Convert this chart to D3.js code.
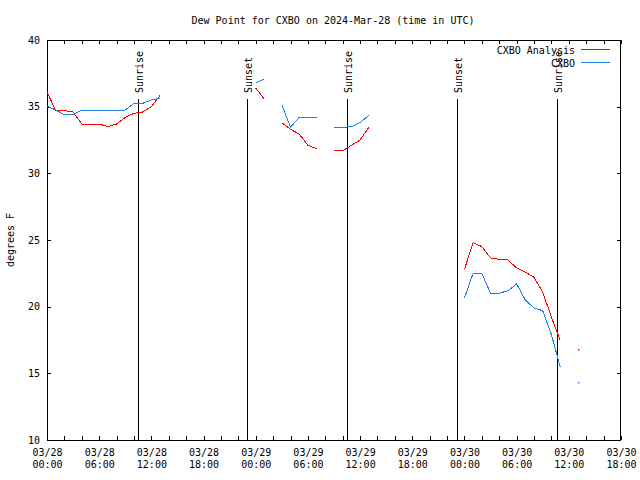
<!DOCTYPE html>
<html><head><meta charset="utf-8">
<script src="https://cdn.jsdelivr.net/npm/d3@7"></script>
<style>
body{margin:0;background:#fff;}
svg{display:block;}
text{font-family:"DejaVu Sans Mono",monospace;font-size:10px;fill:#000;}
</style></head>
<body>
<svg id="c" width="640" height="480"></svg>
<script>
// ---- data ----
const startTime = "2024-03-28T00:00:00Z";
const hours = d3.range(0, 62); // hourly offsets from start
const analysis = [36.1,34.7,34.7,34.6,33.7,33.7,33.7,33.5,33.7,34.2,34.5,34.6,35.0,35.85,
  null,null,null,null,null,null,null,null,null,null,
  36.4,35.55,null,
  33.8,33.3,32.95,32.1,31.85,null,
  31.7,31.7,32.1,32.5,33.45,
  null,null,null,null,null,null,null,null,null,null,
  22.8,24.8,24.5,23.65,23.55,23.5,22.9,22.6,22.2,21.1,19.2,17.5,
  null,16.8];
const observed = [35.05,34.75,34.4,34.4,34.75,34.75,34.75,34.75,34.75,34.75,35.25,35.25,35.5,35.63,
  null,null,null,null,null,null,null,null,null,null,
  36.75,37.1,null,
  35.15,33.45,34.2,34.2,34.2,null,
  33.45,33.45,33.5,33.8,34.35,
  null,null,null,null,null,null,null,null,null,null,
  20.65,22.5,22.5,21.0,21.0,21.2,21.7,20.5,19.9,19.7,17.9,15.5,
  null,14.35];
const seriesNames = ["CXBO Analysis","CXBO"];
const seriesColors = ["#ff0000","#1a80e6"];
const sunEvents = [
  {label:"Sunrise", time:"2024-03-28T10:30:00Z"},
  {label:"Sunset",  time:"2024-03-28T23:03:00Z"},
  {label:"Sunrise", time:"2024-03-29T10:32:00Z"},
  {label:"Sunset",  time:"2024-03-29T23:08:00Z"},
  {label:"Sunrise", time:"2024-03-30T10:36:00Z"}
];
const yTicks = [10,15,20,25,30,35,40];
const title = "Dew Point for CXBO on 2024-Mar-28 (time in UTC)";
const yLabel = "degrees F";

// ---- chart ----
const svg = d3.select("#c");
const L=47, R=621, T=40, B=440;
const t0 = new Date(startTime);
const hr = h => new Date(t0.getTime() + h*3600e3);
const x = d3.scaleUtc().domain([hr(0), hr(66)]).range([L, R]);
const y = d3.scaleLinear().domain([10, 40]).range([B, T]);

svg.append("text").attr("x", 333).attr("y", 24).attr("text-anchor","middle").text(title);

// axes
const tick2 = d3.range(0, 67, 2).map(hr);
const fmtD = d3.utcFormat("%m/%d"), fmtT = d3.utcFormat("%H:%M");
const xb = svg.append("g").attr("transform",`translate(0,${B})`)
  .call(d3.axisBottom(x).tickValues(tick2).tickSize(-4).tickPadding(9)
    .tickFormat(d => (d.getUTCHours() % 6 === 0) ? "x" : ""));
xb.selectAll("text").each(function(d){
  const t = d3.select(this); if (t.text()==="") return;
  t.text(null);
  t.append("tspan").attr("x",0).attr("dy","0.71em").text(fmtD(d));
  t.append("tspan").attr("x",0).attr("dy","1.2em").text(fmtT(d));
});
svg.append("g").attr("transform",`translate(0,${T})`)
  .call(d3.axisTop(x).tickValues(tick2).tickSize(-4).tickFormat(""));
svg.append("g").attr("transform",`translate(${L},0)`)
  .call(d3.axisLeft(y).tickValues(yTicks).tickSize(-4).tickPadding(7).tickFormat(d3.format("d")));
svg.append("g").attr("transform",`translate(${R},0)`)
  .call(d3.axisRight(y).tickValues(yTicks).tickSize(-4).tickFormat(""));
svg.selectAll(".domain").remove();
svg.selectAll(".tick line").attr("stroke","#000").attr("shape-rendering","crispEdges");
svg.selectAll(".tick text").attr("font-family",null).attr("font-size",null).attr("fill","#000");

svg.append("rect").attr("x",L+0.5).attr("y",T+0.5).attr("width",R-L-1).attr("height",B-T)
  .attr("fill","none").attr("stroke","#000").attr("shape-rendering","crispEdges");

svg.append("text").attr("transform",`translate(14,${(T+B)/2}) rotate(-90)`)
  .attr("text-anchor","middle").text(yLabel);

// sunrise / sunset
sunEvents.forEach(e => {
  const xp = Math.round(x(new Date(e.time))) + 0.5;
  svg.append("line").attr("x1",xp).attr("x2",xp).attr("y1",y(35.55)).attr("y2",B)
    .attr("stroke","#000").attr("shape-rendering","crispEdges");
  svg.append("text").attr("transform",`translate(${xp+4},93) rotate(-90)`)
    .attr("text-anchor","start").text(e.label);
});

// series
[analysis, observed].forEach((vals, i) => {
  const pts = hours.map((h, k) => ({t: hr(h), v: vals[k]}));
  const line = d3.line().defined(d => d.v != null).x(d => x(d.t)).y(d => y(d.v));
  svg.append("path").datum(pts).attr("d", line).attr("fill","none")
    .attr("stroke", seriesColors[i]).attr("stroke-width",1)
    .attr("shape-rendering","crispEdges");
  pts.forEach((p, k) => {
    if (p.v == null) return;
    const prev = pts[k-1], next = pts[k+1];
    if ((!prev || prev.v == null) && (!next || next.v == null)) {
      svg.append("rect").attr("x", Math.round(x(p.t))).attr("y", Math.round(y(p.v)))
        .attr("width",1.5).attr("height",1.5).attr("fill", seriesColors[i]);
    }
  });
});

// legend
seriesNames.forEach((n, i) => {
  const yy = 50 + i*13;
  svg.append("text").attr("x",575).attr("y",yy+4).attr("text-anchor","end").text(n);
  svg.append("line").attr("x1",581).attr("x2",610).attr("y1",yy-0.5).attr("y2",yy-0.5)
    .attr("stroke",seriesColors[i]).attr("shape-rendering","crispEdges");
});
</script>
</body></html>
